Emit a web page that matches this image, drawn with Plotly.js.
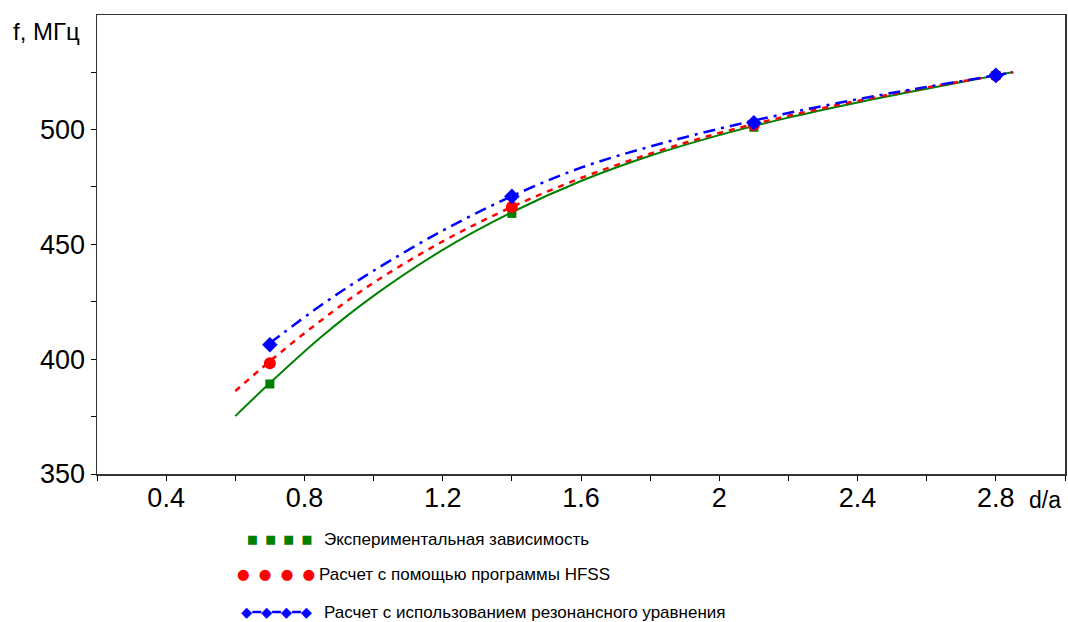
<!DOCTYPE html>
<html>
<head>
<meta charset="utf-8">
<script src="https://cdn.plot.ly/plotly-3.0.1.min.js"></script>
<style>html,body{margin:0;padding:0;background:#fff;}#chart{width:1068px;height:622px;}</style>
</head>
<body>
<div id="chart"></div>
<script>
// Fitted curves
const curveXExp = [0.6, 0.7, 0.85, 1.0, 1.2, 1.4, 1.6, 1.8, 2.0, 2.2, 2.4, 2.6, 2.8, 2.85];
const curveExp  = [375.2, 389.6, 409.9, 427.6, 447.6, 464, 477.6, 488.6, 497.6, 505.2, 511.8, 517.8, 523.6, 525.1];
const curveXHfss = [0.6, 0.7, 0.85, 1.0, 1.2, 1.4, 1.6, 1.8, 2.0, 2.2, 2.4, 2.6, 2.8, 2.85];
const curveHfss  = [386.1, 399.1, 417.1, 433.3, 451.3, 466.3, 478.9, 489.5, 498.5, 506, 512.5, 518.3, 523.6, 525];
const curveXRes = [0.7, 0.85, 1.0, 1.2, 1.4, 1.6, 1.8, 2.0, 2.2, 2.4, 2.6, 2.8, 2.85];
const curveRes  = [407, 423.7, 438.5, 456, 471, 483.4, 492.6, 500.4, 507.2, 513.2, 518.6, 523.6, 524.9];

// Measured / computed points
const pointsX   = [0.7, 1.4, 2.1, 2.8];
const pointsExp = [389.2, 463.5, 501, 523.5];
const pointsHfss = [398.2, 466.3, 502, 523.6];
const pointsRes = [406.3, 470.9, 503, 523.6];

const legendLabels = [
  "Экспериментальная зависимость",
  "Расчет с помощью программы HFSS",
  "Расчет с использованием резонансного уравнения"
];
const yTitle = "f, МГц";
const xTitle = "d/a";

const GREEN = "#008000", RED = "#ff0000", BLUE = "#0000ff";

const traces = [
  {x: curveXExp, y: curveExp, mode: "lines", line: {color: GREEN, width: 2, shape: "spline"}, hoverinfo: "skip"},
  {x: curveXHfss, y: curveHfss, mode: "lines", line: {color: RED, width: 2.5, dash: "6px,6px", shape: "spline"}, hoverinfo: "skip"},
  {x: pointsX, y: pointsExp, mode: "markers", marker: {symbol: "square", size: 9, color: GREEN}},
  {x: pointsX, y: pointsHfss, mode: "markers", marker: {symbol: "circle", size: 12, color: RED}},
  {x: curveXRes, y: curveRes, mode: "lines", line: {color: BLUE, width: 2.5, dash: "12px,6px,3px,6px", shape: "spline"}, hoverinfo: "skip"},
  {x: pointsX, y: pointsRes, mode: "markers", marker: {symbol: "diamond", size: 12, color: BLUE}}
];

// pixel -> paper helpers (plot area: x 97..1065, y 15..474)
const L = 97, R = 3, T = 15, B = 148, W = 1068, H = 622;
const pw = W - L - R, ph = H - T - B;
const px = p => (p - L) / pw;
const py = p => (H - B - p) / ph;

const FONT = "Liberation Sans, Arial, sans-serif";
const annotations = [
  {text: yTitle, xref: "paper", yref: "paper", x: px(11), y: py(31), xanchor: "left", yanchor: "middle", showarrow: false, font: {family: FONT, size: 24, color: "#000"}},
  {text: xTitle, xref: "paper", yref: "paper", x: px(1027), y: py(500), xanchor: "left", yanchor: "middle", showarrow: false, font: {family: FONT, size: 23, color: "#000"}},
  // legend glyphs
  {text: "■&nbsp;&nbsp;■&nbsp;&nbsp;■&nbsp;&nbsp;■", xref: "paper", yref: "paper", x: px(245), y: py(539), xanchor: "left", yanchor: "middle", showarrow: false, font: {family: "DejaVu Sans", size: 11.5, color: GREEN}},
  {text: "●&nbsp;&nbsp;●&nbsp;&nbsp;●&nbsp;&nbsp;●", xref: "paper", yref: "paper", x: px(235), y: py(574), xanchor: "left", yanchor: "middle", showarrow: false, font: {family: "DejaVu Sans", size: 14.5, color: RED}},
  {text: "◆━◆━◆━◆", xref: "paper", yref: "paper", x: px(239), y: py(612), xanchor: "left", yanchor: "middle", showarrow: false, font: {family: "DejaVu Sans", size: 14.5, color: BLUE}},
  // legend labels
  {text: legendLabels[0], xref: "paper", yref: "paper", x: px(322), y: py(539), xanchor: "left", yanchor: "middle", showarrow: false, font: {family: FONT, size: 17, color: "#000"}},
  {text: legendLabels[1], xref: "paper", yref: "paper", x: px(317), y: py(574), xanchor: "left", yanchor: "middle", showarrow: false, font: {family: FONT, size: 17, color: "#000"}},
  {text: legendLabels[2], xref: "paper", yref: "paper", x: px(322), y: py(612), xanchor: "left", yanchor: "middle", showarrow: false, font: {family: FONT, size: 17, color: "#000"}}
];

const layout = {
  width: W, height: H,
  margin: {l: L, r: R, t: T, b: B, pad: 0},
  paper_bgcolor: "#fff", plot_bgcolor: "#fff",
  showlegend: false,
  font: {family: FONT, color: "#000"},
  xaxis: {
    range: [0.2, 3.0], tick0: 0.4, dtick: 0.4, ticks: "outside", ticklen: 5, tickwidth: 1, tickcolor: "#000",
    showline: true, linecolor: "#333", linewidth: 1.5, mirror: true,
    showgrid: false, zeroline: false, ticklabelstandoff: -6,
    tickfont: {family: FONT, size: 27, color: "#000"},
    minor: {tick0: 0.2, dtick: 0.2, ticks: "outside", ticklen: 5, tickcolor: "#000", showgrid: false}
  },
  yaxis: {
    range: [350, 549.9], tick0: 350, dtick: 50, ticks: "outside", ticklen: 5, tickwidth: 1, tickcolor: "#000",
    showline: true, linecolor: "#333", linewidth: 1.5, mirror: true,
    showgrid: false, zeroline: false,
    tickfont: {family: FONT, size: 27, color: "#000"},
    minor: {tick0: 350, dtick: 25, ticks: "outside", ticklen: 5, tickcolor: "#000", showgrid: false}
  },
  annotations: annotations
};

Plotly.newPlot("chart", traces, layout, {displayModeBar: false, staticPlot: true});
</script>
</body>
</html>
